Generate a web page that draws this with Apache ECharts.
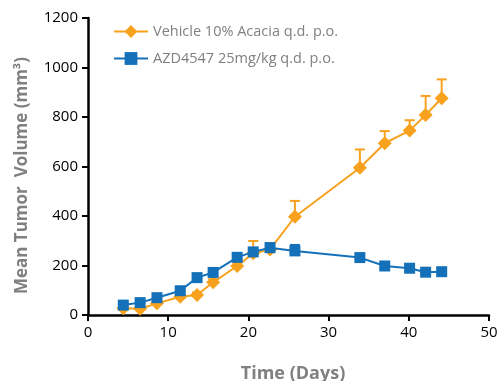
<!DOCTYPE html>
<html>
<head>
<meta charset="utf-8">
<script src="https://cdn.jsdelivr.net/npm/echarts@6/dist/echarts.min.js"></script>
<style>
  html, body { margin: 0; padding: 0; background: #fff; }
  #chart { width: 498px; height: 381px; }
</style>
</head>
<body>
<div id="chart"></div>
<script>
const vehicleDays = [4.4, 6.5, 8.6, 11.5, 13.6, 15.6, 18.6, 20.6, 22.7, 25.8, 33.9, 37.0, 40.1, 42.1, 44.1];
const vehicleValues = [27, 25, 47, 74, 81, 132, 198, 249, 265, 397, 595, 694, 745, 808, 876];
const vehicleErr = [6, 6, 8, 8, 10, 12, 15, 50, 20, 64, 74, 49, 42, 77, 76];

const azdDays = [4.4, 6.5, 8.6, 11.5, 13.6, 15.6, 18.6, 20.6, 22.7, 25.8, 33.9, 37.0, 40.1, 42.1, 44.1];
const azdValues = [40, 50, 70, 98, 151, 172, 233, 255, 272, 259, 232, 198, 189, 173, 175];
const azdErr = [5, 5, 6, 7, 8, 8, 10, 10, 18, 24, 8, 14, 10, 8, 6];

const orange = '#F7A11D';
const blue = '#1471B9';

function errorSeries(days, values, errs, color, lowerToo) {
  return {
    type: 'custom',
    silent: true,
    z: 1,
    data: days.map((d, i) => [d, values[i] - (lowerToo ? errs[i] * 0.4 : 0), values[i] + errs[i]]),
    renderItem: function (params, api) {
      const top = api.coord([api.value(0), api.value(2)]);
      const bot = api.coord([api.value(0), api.value(1)]);
      const cap = 5;
      const style = { stroke: color, lineWidth: 2 };
      const children = [
        { type: 'line', shape: { x1: top[0], y1: top[1], x2: bot[0], y2: bot[1] }, style: style },
        { type: 'line', shape: { x1: top[0] - cap, y1: top[1], x2: top[0] + cap, y2: top[1] }, style: style }
      ];
      if (lowerToo) {
        children.push({ type: 'line', shape: { x1: bot[0] - cap, y1: bot[1], x2: bot[0] + cap, y2: bot[1] }, style: style });
      }
      return { type: 'group', children: children };
    }
  };
}

const chart = echarts.init(document.getElementById('chart'));

chart.setOption({
  animation: false,
  textStyle: { fontFamily: 'Open Sans' },
  grid: { left: 88, right: 9, top: 18, bottom: 66, outerBoundsMode: 'none' },
  legend: {
    orient: 'vertical',
    left: 108,
    top: 19,
    itemWidth: 34,
    itemHeight: 16,
    itemGap: 12,
    textStyle: { color: '#808080', fontSize: 14.5, fontFamily: 'Open Sans' },
    data: ['Vehicle 10% Acacia q.d. p.o.', 'AZD4547 25mg/kg q.d. p.o.']
  },
  xAxis: {
    type: 'value',
    min: 0,
    max: 50,
    interval: 10,
    name: 'Time (Days)',
    nameLocation: 'middle',
    nameGap: 50,
    nameTextStyle: { color: '#808080', fontSize: 18, fontWeight: 'bold', padding: [0, 0, 0, 9] },
    axisLine: { show: true, lineStyle: { color: '#000', width: 2.5 } },
    axisTick: { show: true, length: 6, lineStyle: { color: '#000', width: 2 } },
    axisLabel: { color: '#000', fontSize: 15, margin: 10 },
    splitLine: { show: false }
  },
  yAxis: {
    type: 'value',
    min: 0,
    max: 1200,
    interval: 200,
    name: 'Mean Tumor  Volume (mm³)',
    nameLocation: 'middle',
    nameGap: 57,
    nameTextStyle: { color: '#808080', fontSize: 17, fontWeight: 'bold', padding: [0, 18, 0, 0] },
    axisLine: { show: true, lineStyle: { color: '#000', width: 2.5 } },
    axisTick: { show: true, length: 6, lineStyle: { color: '#000', width: 2 } },
    axisLabel: { color: '#000', fontSize: 15, margin: 10, formatter: v => String(v) },
    splitLine: { show: false }
  },
  series: [
    errorSeries(vehicleDays, vehicleValues, vehicleErr, orange, false),
    errorSeries(azdDays, azdValues, azdErr, blue, true),
    {
      name: 'Vehicle 10% Acacia q.d. p.o.',
      type: 'line',
      z: 3,
      data: vehicleDays.map((d, i) => [d, vehicleValues[i]]),
      symbol: 'diamond',
      symbolSize: 14,
      showAllSymbol: true,
      lineStyle: { color: orange, width: 2 },
      itemStyle: { color: orange, borderWidth: 0 }
    },
    {
      name: 'AZD4547 25mg/kg q.d. p.o.',
      type: 'line',
      z: 4,
      data: azdDays.map((d, i) => [d, azdValues[i]]),
      symbol: 'rect',
      symbolSize: 11,
      showAllSymbol: true,
      lineStyle: { color: blue, width: 2 },
      itemStyle: { color: blue, borderWidth: 0 }
    }
  ]
});
</script>
</body>
</html>
